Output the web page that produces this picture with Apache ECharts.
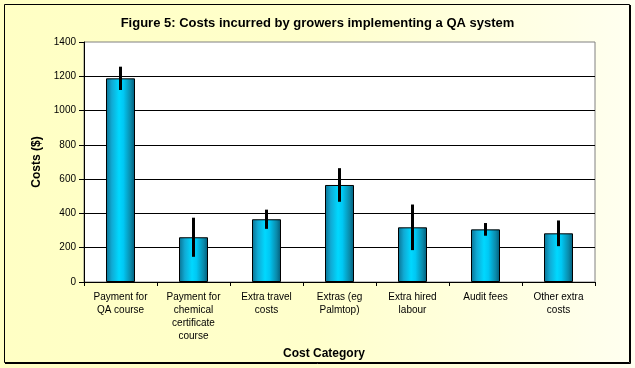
<!DOCTYPE html>
<html>
<head>
<meta charset="utf-8">
<script src="https://cdn.jsdelivr.net/npm/echarts@6/dist/echarts.min.js"></script>
<style>
html,body{margin:0;padding:0;background:#fff;}
#c{width:635px;height:368px;}
</style>
</head>
<body>
<div id="c"></div>
<script>
const categories = ["Payment for\nQA course", "Payment for\nchemical\ncertificate\ncourse", "Extra travel\ncosts", "Extras (eg\nPalmtop)", "Extra hired\nlabour", "Audit fees", "Other extra\ncosts"];
const costs = [1188, 261, 366, 566, 319, 307, 284];
const errors = [68, 114, 56, 98, 133, 37, 75];
const yTicks = [0, 200, 400, 600, 800, 1000, 1200, 1400];

const errData = costs.map((v, i) => [i, v - errors[i], v + errors[i]]);
const font = "Arial, 'Liberation Sans', sans-serif";

const chart = echarts.init(document.getElementById('c'), null, {renderer: 'canvas'});
chart.setOption({
  animation: false,
  backgroundColor: {
    type: 'linear', x: 0, y: 0, x2: 1, y2: 0,
    colorStops: [
      {offset: 0, color: '#FFFFC4'},
      {offset: 0.5, color: '#FFFFCC'},
      {offset: 1, color: '#FFFFF0'}
    ]
  },
  title: {
    text: 'Figure 5: Costs incurred by growers implementing a QA system',
    left: 'center',
    top: 12,
    textStyle: {fontFamily: font, fontSize: 13, fontWeight: 'bold', color: '#000'}
  },
  graphic: [{
    type: 'rect',
    shape: {x: 4.5, y: 4.5, width: 625, height: 358},
    style: {fill: 'none', stroke: '#000', lineWidth: 1},
    silent: true
  }, {
    type: 'polyline',
    shape: {points: [[630.5, 5], [630.5, 363.5], [5, 363.5]]},
    style: {fill: 'none', stroke: '#000', lineWidth: 1},
    silent: true
  }],
  grid: {
    left: 84, right: 40, top: 42, bottom: 86,
    show: true, backgroundColor: '#fff', borderColor: '#808080', borderWidth: 1
  },
  xAxis: {
    type: 'category',
    data: categories,
    boundaryGap: true,
    name: 'Cost Category',
    nameLocation: 'middle',
    nameGap: 64,
    nameTextStyle: {fontFamily: font, fontSize: 12, fontWeight: 'bold', color: '#000', padding: [0, 31, 0, 0]},
    axisLine: {lineStyle: {color: '#000', width: 1}},
    axisTick: {show: true, alignWithLabel: false, length: 4, lineStyle: {color: '#000'}},
    axisLabel: {fontFamily: font, fontSize: 10, color: '#000', lineHeight: 13, margin: 9, interval: 0}
  },
  yAxis: {
    type: 'value',
    min: 0, max: 1400, interval: 200,
    name: 'Costs ($)',
    nameLocation: 'middle',
    nameGap: 40,
    nameTextStyle: {fontFamily: font, fontSize: 12, fontWeight: 'bold', color: '#000'},
    axisLine: {show: true, lineStyle: {color: '#000', width: 1}},
    axisTick: {show: true, length: 5, lineStyle: {color: '#000'}},
    axisLabel: {fontFamily: font, fontSize: 10, color: '#000', margin: 8,
      formatter: v => yTicks.includes(v) ? String(v) : ''},
    splitLine: {show: true, showMaxLine: false, lineStyle: {color: '#000', width: 1}}
  },
  series: [{
    type: 'bar',
    data: costs,
    barWidth: 29,
    itemStyle: {
      borderColor: '#000', borderWidth: 1,
      color: {
        type: 'linear', x: 0, y: 0, x2: 1, y2: 0,
        colorStops: [
          {offset: 0, color: '#0a7090'},
          {offset: 0.2, color: '#10aad4'},
          {offset: 0.45, color: '#00d8ff'},
          {offset: 0.6, color: '#00c8f4'},
          {offset: 0.85, color: '#0a8aaa'},
          {offset: 1, color: '#005a78'}
        ]
      }
    },
    z: 2
  }, {
    type: 'custom',
    data: errData,
    z: 3,
    renderItem: function (params, api) {
      const i = api.value(0);
      const lo = api.coord([i, api.value(1)]);
      const hi = api.coord([i, api.value(2)]);
      return {
        type: 'line',
        shape: {x1: lo[0], y1: lo[1], x2: hi[0], y2: hi[1]},
        style: {stroke: '#000', lineWidth: 3}
      };
    }
  }]
});
</script>
</body>
</html>
